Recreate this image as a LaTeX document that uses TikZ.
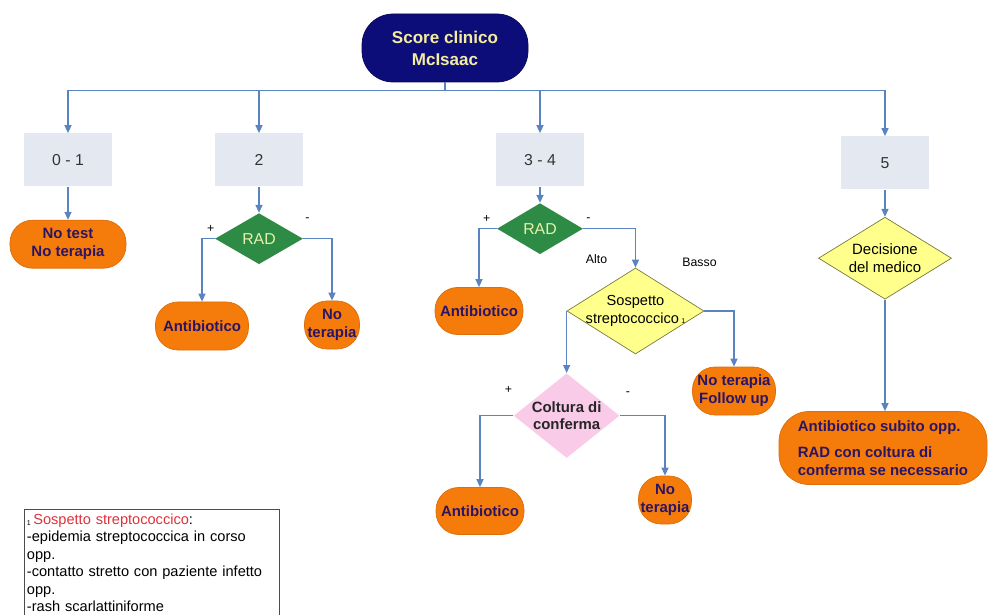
\documentclass[tikz,border=0pt]{standalone}
\usepackage{fontspec}
\setmainfont{Liberation Sans}
\usepackage{xcolor}
\usepackage{tikz}
\usetikzlibrary{positioning,arrows.meta,shapes.geometric}
\definecolor{blunotte}{HTML}{0D0D7A}
\definecolor{paglia}{HTML}{F2EDA0}
\definecolor{azzurro}{HTML}{5A84C0}
\definecolor{fascia}{HTML}{E4E9F1}
\definecolor{arancio}{HTML}{F57B0A}
\definecolor{indaco}{HTML}{2A1565}
\definecolor{verde}{HTML}{2E8B46}
\definecolor{lime}{HTML}{E6F2A8}
\definecolor{giallo}{HTML}{FFFF8C}
\definecolor{oliva}{HTML}{7A7A3A}
\definecolor{rosa}{HTML}{F9CBE9}
\definecolor{rosso}{HTML}{E0303A}

\begin{document}
\begin{tikzpicture}[
  punteggio/.style={draw=blunotte!70!black, fill=blunotte, text=paglia, rounded corners=0.62cm, minimum width=3.32cm, minimum height=1.36cm, font=\fontsize{9.7}{12.5}\selectfont\bfseries, align=center},
  classe/.style={fill=fascia, minimum width=1.76cm, minimum height=1.06cm, font=\fontsize{9}{11}\selectfont, text=black!80},
  esito/.style={draw=arancio!90!black, fill=arancio, rounded corners=0.45cm, minimum height=0.96cm, inner sep=1pt, text=indaco, font=\fontsize{8.5}{10.2}\selectfont\bfseries, align=center},
  rad/.style={diamond, fill=verde, text=lime, minimum width=1.76cm, minimum height=1.02cm, inner sep=0pt, font=\fontsize{9}{11}\selectfont},
  sospetto/.style={diamond, draw=oliva, fill=giallo, aspect=1.6, inner sep=-3pt, font=\fontsize{8.3}{10}\selectfont, align=center},
  conferma/.style={diamond, fill=rosa, aspect=1.25, inner sep=0pt, minimum width=2.1cm, minimum height=1.68cm, text=black!85, font=\fontsize{8.5}{10.2}\selectfont\bfseries, align=center},
  freccia/.style={-{Triangle[length=1.6mm,width=1.4mm]}, line width=0.8pt, color=azzurro},
  segno/.style={font=\fontsize{7}{8}\selectfont, inner sep=0pt},
  legenda/.style={text width=4.98cm, inner xsep=1.5pt, inner ysep=2pt, align=left, font=\fontsize{8.3}{9.9}\selectfont}
]
\useasboundingbox (0,0) rectangle (19.76,-12.3);

\node[punteggio] (score) at (8.9,-0.96) {Score clinico\\McIsaac};

\node[classe] (c01) at (1.36,-3.2) {0 - 1};
\node[classe] (c2) at (5.18,-3.2) {2};
\node[classe] (c34) at (10.8,-3.2) {3 - 4};
\node[classe] (c5) at (17.7,-3.26) {5};

\coordinate (bus) at ([yshift=-0.16cm]score.south);
\foreach \c in {c01,c2,c34,c5}
  \draw[freccia] (score.south) -- (bus) -| (\c.north);

% 0 - 1
\node[esito, minimum width=2.32cm, below=0.66cm of c01] (nt01) {No test\\No terapia};
\draw[freccia] (c01) -- (nt01);

% 2
\node[rad, below=0.52cm of c2] (rad2) {RAD};
\node[esito, minimum width=1.86cm] (ab2) at (4.04,-6.52) {Antibiotico};
\node[esito, minimum width=1.1cm] (nt2) at (6.64,-6.5) {No\\terapia};
\draw[freccia] (c2) -- (rad2);
\draw[freccia] (rad2.west) -| (ab2.north);
\draw[freccia] (rad2.east) -| (nt2.north);
\node[segno] at ([xshift=-0.08cm,yshift=0.2cm]rad2.west) {+};
\node[segno] at ([xshift=0.08cm,yshift=0.38cm]rad2.east) {-};

% 3 - 4
\node[rad, minimum width=1.72cm, below=0.32cm of c34] (rad34) {RAD};
\node[esito, minimum width=1.76cm, minimum height=0.94cm] (ab34) at (9.58,-6.22) {Antibiotico};
\node[sospetto, minimum width=2.74cm, minimum height=1.72cm] (sosp) at (12.71,-6.22) {Sospetto\\streptococcico\,{\fontsize{4}{4}\selectfont 1}};
\draw[freccia] (c34) -- (rad34);
\draw[freccia] (rad34.west) -| (ab34.north);
\draw[freccia] (rad34.east) -| (sosp.north);
\node[segno] at ([xshift=-0.2cm,yshift=0.2cm]rad34.west) {+};
\node[segno] at ([xshift=0.1cm,yshift=0.18cm]rad34.east) {-};
\node[segno] at ([xshift=-0.78cm,yshift=0.18cm]sosp.north) {Alto};
\node[segno] at ([xshift=1.28cm,yshift=0.1cm]sosp.north) {Basso};

\node[esito, minimum width=1.66cm] (nfu) at (14.68,-7.82) {No terapia\\Follow up};
\draw[freccia] (sosp.east) -| (nfu.north);

\node[conferma, below=1.24cm of sosp.west] (colt) {Coltura di\\conferma};
\draw[freccia] (sosp.west) -- (colt.north);
\node[esito, minimum width=1.76cm, minimum height=0.94cm] (ab4) at (9.6,-10.22) {Antibiotico};
\node[esito, minimum width=1.06cm] (nt4) at (13.3,-10.0) {No\\terapia};
\draw[freccia] (colt.west) -| (ab4.north);
\draw[freccia] (colt.east) -| (nt4.north);
\node[segno] at ([xshift=-0.1cm,yshift=0.52cm]colt.west) {+};
\node[segno] at ([xshift=0.16cm,yshift=0.44cm]colt.east) {-};

% 5
\node[sospetto, minimum width=2.66cm, minimum height=1.64cm, font=\fontsize{8.5}{10.2}\selectfont, below=0.54cm of c5] (dec) {Decisione\\del medico};
\draw[freccia] (c5) -- (dec);
\node[esito, rounded corners=0.6cm, minimum width=4.16cm, minimum height=1.46cm, align=left] (big) at (17.66,-8.96) {Antibiotico subito opp.\\[5pt]RAD con coltura di\\conferma se necessario};
\draw[freccia] (dec.south) -- (dec.south |- big.north);

% legenda
\node[legenda, anchor=north west] (leg) at (0.48,-10.2) {\raisebox{-0.5pt}{\fontsize{4}{4}\selectfont 1}\,\textcolor{rosso}{Sospetto streptococcico}:\\-epidemia streptococcica in corso\\opp.\\-contatto stretto con paziente infetto\\opp.\\-rash scarlattiniforme};
\draw[black!70] ([yshift=0.02cm]leg.north west) rectangle ([yshift=-0.4cm]leg.south east);
\end{tikzpicture}
\end{document}
